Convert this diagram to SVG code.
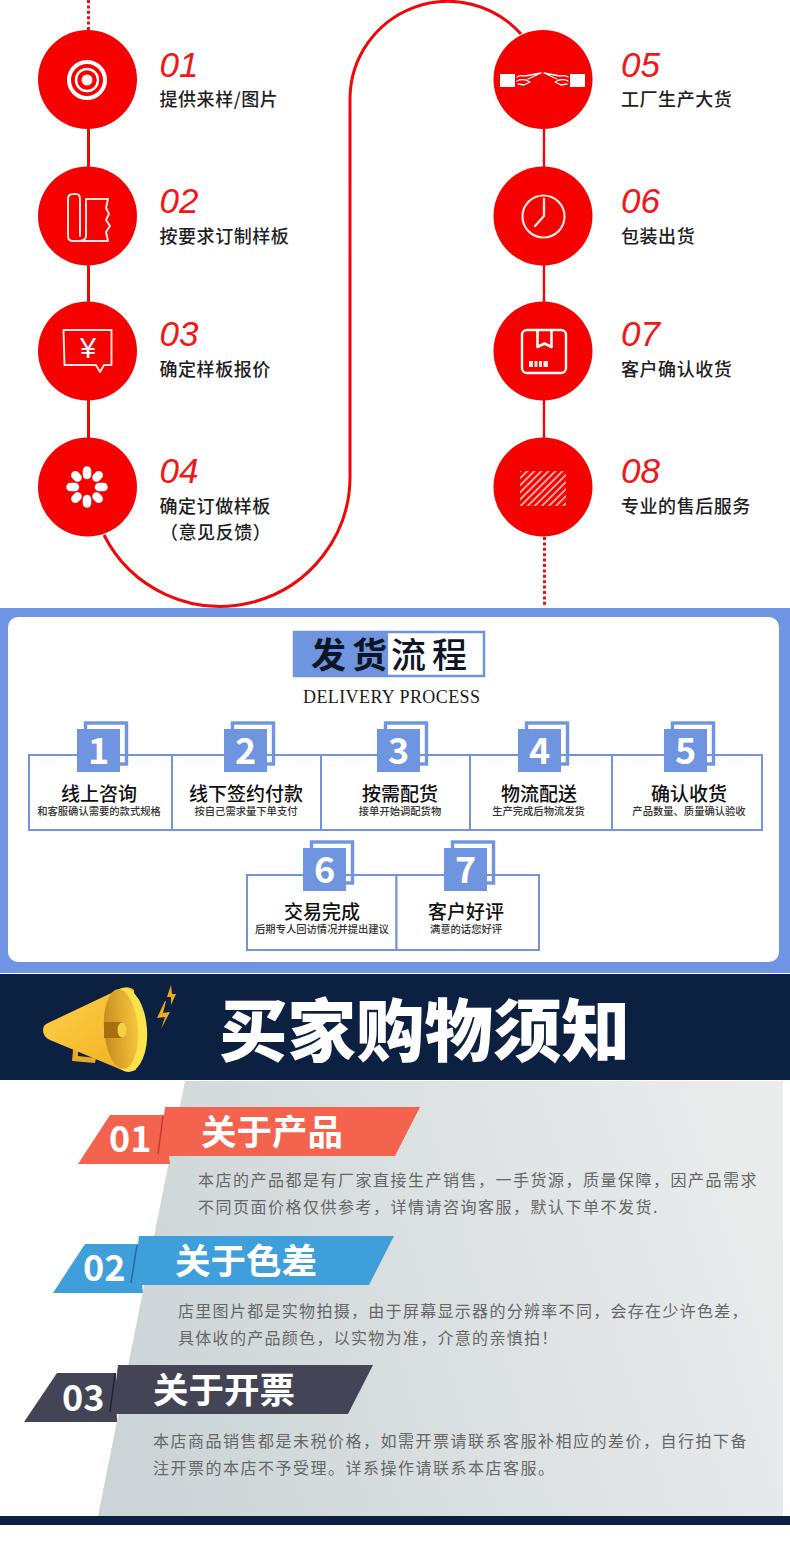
<svg xmlns="http://www.w3.org/2000/svg" width="790" height="1552" viewBox="0 0 790 1552">
<style>
text{font-family:"Noto Sans CJK SC","Noto Sans",sans-serif}
.red{fill:#f60000}
.num{font-family:"Liberation Sans",Arial,sans-serif;font-style:italic;font-size:35px;fill:#f21616}
.lab{font-size:18px;letter-spacing:.55px;fill:#1f1f1f;font-weight:500}
.ic{fill:none;stroke:#fff;stroke-linejoin:round;stroke-linecap:round}
.ln{fill:none;stroke:#ee0808;stroke-width:3}
.dot{fill:none;stroke:#e81010;stroke-width:3;stroke-dasharray:3 2.4}
.box{fill:#fff;stroke:#7492d8;stroke-width:2}
.sq{fill:#6f94e0}
.bk{fill:none;stroke:#6f94e0;stroke-width:3.4}
.d{fill:#fff;font-size:36px;font-weight:700;text-anchor:middle}
.t{font-size:19px;fill:#111;text-anchor:middle;font-weight:500}
.s{font-size:10.300px;fill:#333;text-anchor:middle;font-weight:500}
.h{font-size:35.500px;font-weight:700;fill:#fff}
.n{font-size:36px;font-weight:700;fill:#fff}
.b{font-size:16px;letter-spacing:1px;fill:#666}
</style>
<defs>
<pattern id="hatch" width="5" height="5" patternUnits="userSpaceOnUse" patternTransform="rotate(-45)"><rect width="5" height="5" fill="#f60000"/><rect width="5" height="1.800" y="0" fill="#fdbcb4"/></pattern>
<linearGradient id="gr" x1="0" y1="0.6" x2="1" y2="0.4"><stop offset="0" stop-color="#ccd4d7"/><stop offset="1" stop-color="#eaecec"/></linearGradient>
<linearGradient id="cone" x1="0" y1="0" x2="1" y2="1"><stop offset="0" stop-color="#fdd24a"/><stop offset="1" stop-color="#f2ae22"/></linearGradient>
<linearGradient id="mouth" x1="0" y1="0" x2="1" y2="0"><stop offset="0" stop-color="#c98c20"/><stop offset="1" stop-color="#f7c53e"/></linearGradient>
</defs>
<rect width="790" height="1552" fill="#fff"/>

<g id="connectors">
<path class="dot" d="M88.500 0V30"/>
<path class="ln" d="M88.500 128V168M88.500 265V303M88.500 400V438"/>
<path class="ln" d="M104 535A130 130 0 0 0 350 474V98A98 98 0 0 1 521 34"/>
<path class="ln" style="stroke-width:2.400" d="M544 128V168M544 265V303M544 400V438"/>
<path class="dot" d="M544.500 537V606"/>
</g>

<g id="step01"><circle class="red" cx="87.500" cy="79.500" r="49.500"/>
<circle class="ic" cx="87" cy="80" r="18" stroke-width="4"/><circle cx="87" cy="80" r="5.500" fill="#fff"/><circle class="ic" cx="87" cy="80" r="11" stroke-width="2.500"/>
<text class="num" x="159.500" y="77">01</text><text class="lab" x="159.500" y="106">提供来样/图片</text></g>

<g id="step02"><circle class="red" cx="87.500" cy="216" r="49.500"/>
<path class="ic" stroke="#fff" style="stroke:#ffe4e0" stroke-width="2" d="M68 236V199Q68 194 73 194H76Q80 194 80 199V236M68 236Q68 241 73 241H108L106 232 110 226 106 220 109 214 106 208 108 199H86V236Q86 240 80 241"/>
<text class="num" x="159.500" y="213">02</text><text class="lab" x="159.500" y="243">按要求订制样板</text></g>

<g id="step03"><circle class="red" cx="87.500" cy="351" r="49.500"/>
<path class="ic" style="stroke:#ffe4e0" stroke-width="2" d="M63.500 330H111.500V365H104L100 372 96 365H64.500Z"/>
<text x="88" y="358" font-size="29" fill="#fff" text-anchor="middle" style="font-family:'Liberation Sans',sans-serif">¥</text>
<text class="num" x="159.500" y="346">03</text><text class="lab" x="159.500" y="376">确定样板报价</text></g>

<g id="step04"><circle class="red" cx="87.500" cy="487" r="49.500"/>
<g class="ic" stroke-width="8.500"><path d="M87 470.500V475M98.700 475.300L96.500 477.500M103.500 487H99M98.700 498.700L96.500 496.500M87 503.500V499M75.300 498.700L77.500 496.500M70.500 487H75M75.300 475.300L77.500 477.500"/></g>
<circle cx="87" cy="487" r="3.500" fill="#f60000"/>
<text class="num" x="159.500" y="483">04</text><text class="lab" x="159.500" y="513">确定订做样板</text><text class="lab" x="160" y="539">（意见反馈）</text></g>

<g id="step05"><circle class="red" cx="543" cy="79.500" r="49.500"/>
<rect x="500" y="74" width="15" height="13" fill="#fff"/><rect x="570" y="74" width="15" height="13" fill="#fff"/>
<path class="ic" stroke-width="1.300" d="M517 77Q520 75 525 76L541 73 528 79M517 81Q520 79 526 80L530 82 524 85 518 84M568 77Q565 75 560 76L544 73 557 79M568 81Q565 79 559 80L555 82 561 85 567 84"/>
<text class="num" x="621" y="77">05</text><text class="lab" x="621" y="106">工厂生产大货</text></g>

<g id="step06"><circle class="red" cx="543" cy="216" r="49.500"/>
<circle class="ic" cx="543.500" cy="216.500" r="21" stroke-width="2.200" style="stroke:#ffe4e0"/><path class="ic" stroke-width="2.400" style="stroke:#ffe4e0" d="M544 199V216L535 226"/>
<text class="num" x="621" y="213">06</text><text class="lab" x="621" y="243">包装出货</text></g>

<g id="step07"><circle class="red" cx="543" cy="351" r="49.500"/>
<rect class="ic" x="522" y="330" width="44" height="43" rx="5" stroke-width="2.400"/>
<path class="ic" stroke-width="2.600" d="M537.500 331V347L544.500 343.500 551.500 347V331"/>
<g fill="#ffe9e6"><rect x="529" y="361" width="4" height="6"/><rect x="534.500" y="361" width="3" height="6"/><rect x="539" y="361" width="3" height="6"/><rect x="543.500" y="361" width="4.500" height="6"/></g>
<text class="num" x="621" y="346">07</text><text class="lab" x="621" y="376">客户确认收货</text></g>

<g id="step08"><circle class="red" cx="543" cy="487" r="49.500"/>
<rect x="520" y="471" width="46" height="35" fill="url(#hatch)"/>
<text class="num" x="621" y="483">08</text><text class="lab" x="621" y="513">专业的售后服务</text></g>

<g id="delivery">
<rect x="0" y="608" width="790" height="365" fill="#6f94e3"/>
<rect x="8" y="617" width="771" height="345" rx="10" fill="#fff"/>
<rect x="294" y="632" width="190" height="44" fill="#fff" stroke="#6f94e0" stroke-width="2.500"/>
<rect x="293" y="632" width="95" height="45" fill="#6f94e0"/>
<text x="311" y="668" font-size="35" fill="#0d1526" font-weight="700" letter-spacing="6" style="font-family:'Noto Sans CJK SC',serif">发货</text>
<text x="391" y="668" font-size="35" fill="#0d1526" font-weight="500" letter-spacing="6" style="font-family:'Noto Sans CJK SC',serif">流程</text>
<text x="303" y="703" font-size="18" fill="#1a1a1a" textLength="177" style="font-family:'Liberation Serif',serif">DELIVERY PROCESS</text>
</g>

<g id="d1"><rect class="box" x="29" y="755" width="143" height="75"/><rect class="bk" x="85.500" y="723" width="41" height="41"/><rect class="sq" x="77" y="729" width="43" height="43"/><text class="d" x="98.500" y="764">1</text><text class="t" x="99" y="801">线上咨询</text><text class="s" x="99" y="815">和客服确认需要的款式规格</text></g>
<g id="d2"><rect class="box" x="172" y="755" width="149" height="75"/><rect class="bk" x="232.500" y="723" width="41" height="41"/><rect class="sq" x="224" y="729" width="43" height="43"/><text class="d" x="245.500" y="764">2</text><text class="t" x="246" y="801">线下签约付款</text><text class="s" x="246" y="815">按自己需求量下单支付</text></g>
<g id="d3"><rect class="box" x="321" y="755" width="149" height="75"/><rect class="bk" x="385.500" y="723" width="41" height="41"/><rect class="sq" x="377" y="729" width="43" height="43"/><text class="d" x="398.500" y="764">3</text><text class="t" x="400" y="801">按需配货</text><text class="s" x="400" y="815">接单开始调配货物</text></g>
<g id="d4"><rect class="box" x="470" y="755" width="142" height="75"/><rect class="bk" x="526.500" y="723" width="41" height="41"/><rect class="sq" x="518" y="729" width="43" height="43"/><text class="d" x="539.500" y="764">4</text><text class="t" x="539" y="801">物流配送</text><text class="s" x="538.500" y="815">生产完成后物流发货</text></g>
<g id="d5"><rect class="box" x="612" y="755" width="150" height="75"/><rect class="bk" x="672.500" y="723" width="41" height="41"/><rect class="sq" x="664" y="729" width="43" height="43"/><text class="d" x="685.500" y="764">5</text><text class="t" x="689" y="801">确认收货</text><text class="s" x="689" y="815">产品数量、质量确认验收</text></g>
<g id="d6"><rect class="box" x="247" y="875" width="149.500" height="75"/><rect class="bk" x="311.500" y="842" width="41" height="41"/><rect class="sq" x="303" y="848" width="43" height="43"/><text class="d" x="324.500" y="883">6</text><text class="t" x="322" y="919">交易完成</text><text class="s" x="322" y="933">后期专人回访情况并提出建议</text></g>
<g id="d7"><rect class="box" x="396.500" y="875" width="142.500" height="75"/><rect class="bk" x="452.500" y="842" width="41" height="41"/><rect class="sq" x="444" y="848" width="43" height="43"/><text class="d" x="465.500" y="883">7</text><text class="t" x="466" y="919">客户好评</text><text class="s" x="466" y="933">满意的话您好评</text></g>

<g id="notice-header">
<rect x="0" y="974" width="790" height="106" fill="#0c2141"/>
<path d="M73 1050L72 1061 95 1063 96 1058 78 1056 78 1049Z" fill="#e9a92a"/>
<path d="M43 1030Q43 1025 48 1023L122 988Q130 986 134 990L136 1070Q130 1072 122 1070L50 1040Q43 1037 43 1030Z" fill="url(#cone)"/>
<path d="M43 1028Q43 1036 50 1040L48 1039Q42 1034 43 1028Z" fill="#e87830"/>
<ellipse cx="126" cy="1030" rx="21" ry="42" fill="#fde24c" transform="rotate(-4 126 1030)"/>
<ellipse cx="121" cy="1029" rx="17" ry="40" fill="url(#mouth)" transform="rotate(-4 121 1029)"/>
<path d="M104 1022H122V1038H104Z" fill="#a86e10"/>
<ellipse cx="122" cy="1030" rx="4.500" ry="7.500" fill="#f9d040"/>
<path d="M165 1001L157 1018 165 1017 161 1029 170 1012 163 1013 166 1001Z" fill="#f2a922"/>
<path d="M171 985L167 997 171 997 171 1005 176 994 172 994 171 985Z" fill="#f2a922"/>
<text x="219" y="1056" font-size="68.500" font-weight="900" fill="#fff">买家购物须知</text>
</g>

<path id="panel" d="M185 1081H783V1516H98Z" fill="url(#gr)"/>
<rect id="footer-bar" x="0" y="1516" width="790" height="9" fill="#0c2141"/>

<g id="n1"><path d="M78 1164L110 1115H165L170 1164Z" fill="#f4634d"/><path d="M165 1107H420L395 1156H159Z" fill="#f4634d"/><path d="M163 1116L158 1154" stroke="#b9412f" stroke-width="1.500"/><text class="n" x="109" y="1152">01</text><text class="h" x="201" y="1145">关于产品</text>
<text class="b" style="letter-spacing:1.500px" x="198" y="1186">本店的产品都是有厂家直接生产销售，一手货源，质量保障，因产品需求</text><text class="b" style="letter-spacing:1.500px" x="198" y="1213">不同页面价格仅供参考，详情请咨询客服，默认下单不发货.</text></g>
<g id="n2"><path d="M53 1293L85 1244H138L143 1293Z" fill="#3e9fdb"/><path d="M139 1236H394L369 1285H133Z" fill="#3e9fdb"/><path d="M137 1245L131 1283" stroke="#256a99" stroke-width="1.500"/><text class="n" x="83" y="1281">02</text><text class="h" x="175" y="1274">关于色差</text>
<text class="b" style="letter-spacing:1.300px" x="178" y="1317">店里图片都是实物拍摄，由于屏幕显示器的分辨率不同，会存在少许色差，</text><text class="b" style="letter-spacing:1.300px" x="178" y="1344">具体收的产品颜色，以实物为准，介意的亲慎拍！</text></g>
<g id="n3"><path d="M24 1422L57 1373H116L117 1422Z" fill="#434556"/><path d="M118 1365H373L348 1414H112Z" fill="#434556"/><path d="M115 1373L110 1412" stroke="#22232e" stroke-width="1.500"/><text class="n" x="62" y="1411">03</text><text class="h" x="153" y="1403">关于开票</text>
<text class="b" style="letter-spacing:1.500px" x="153" y="1447">本店商品销售都是未税价格，如需开票请联系客服补相应的差价，自行拍下备</text><text class="b" style="letter-spacing:1.500px" x="153" y="1474">注开票的本店不予受理。详系操作请联系本店客服。</text></g>
</svg>
